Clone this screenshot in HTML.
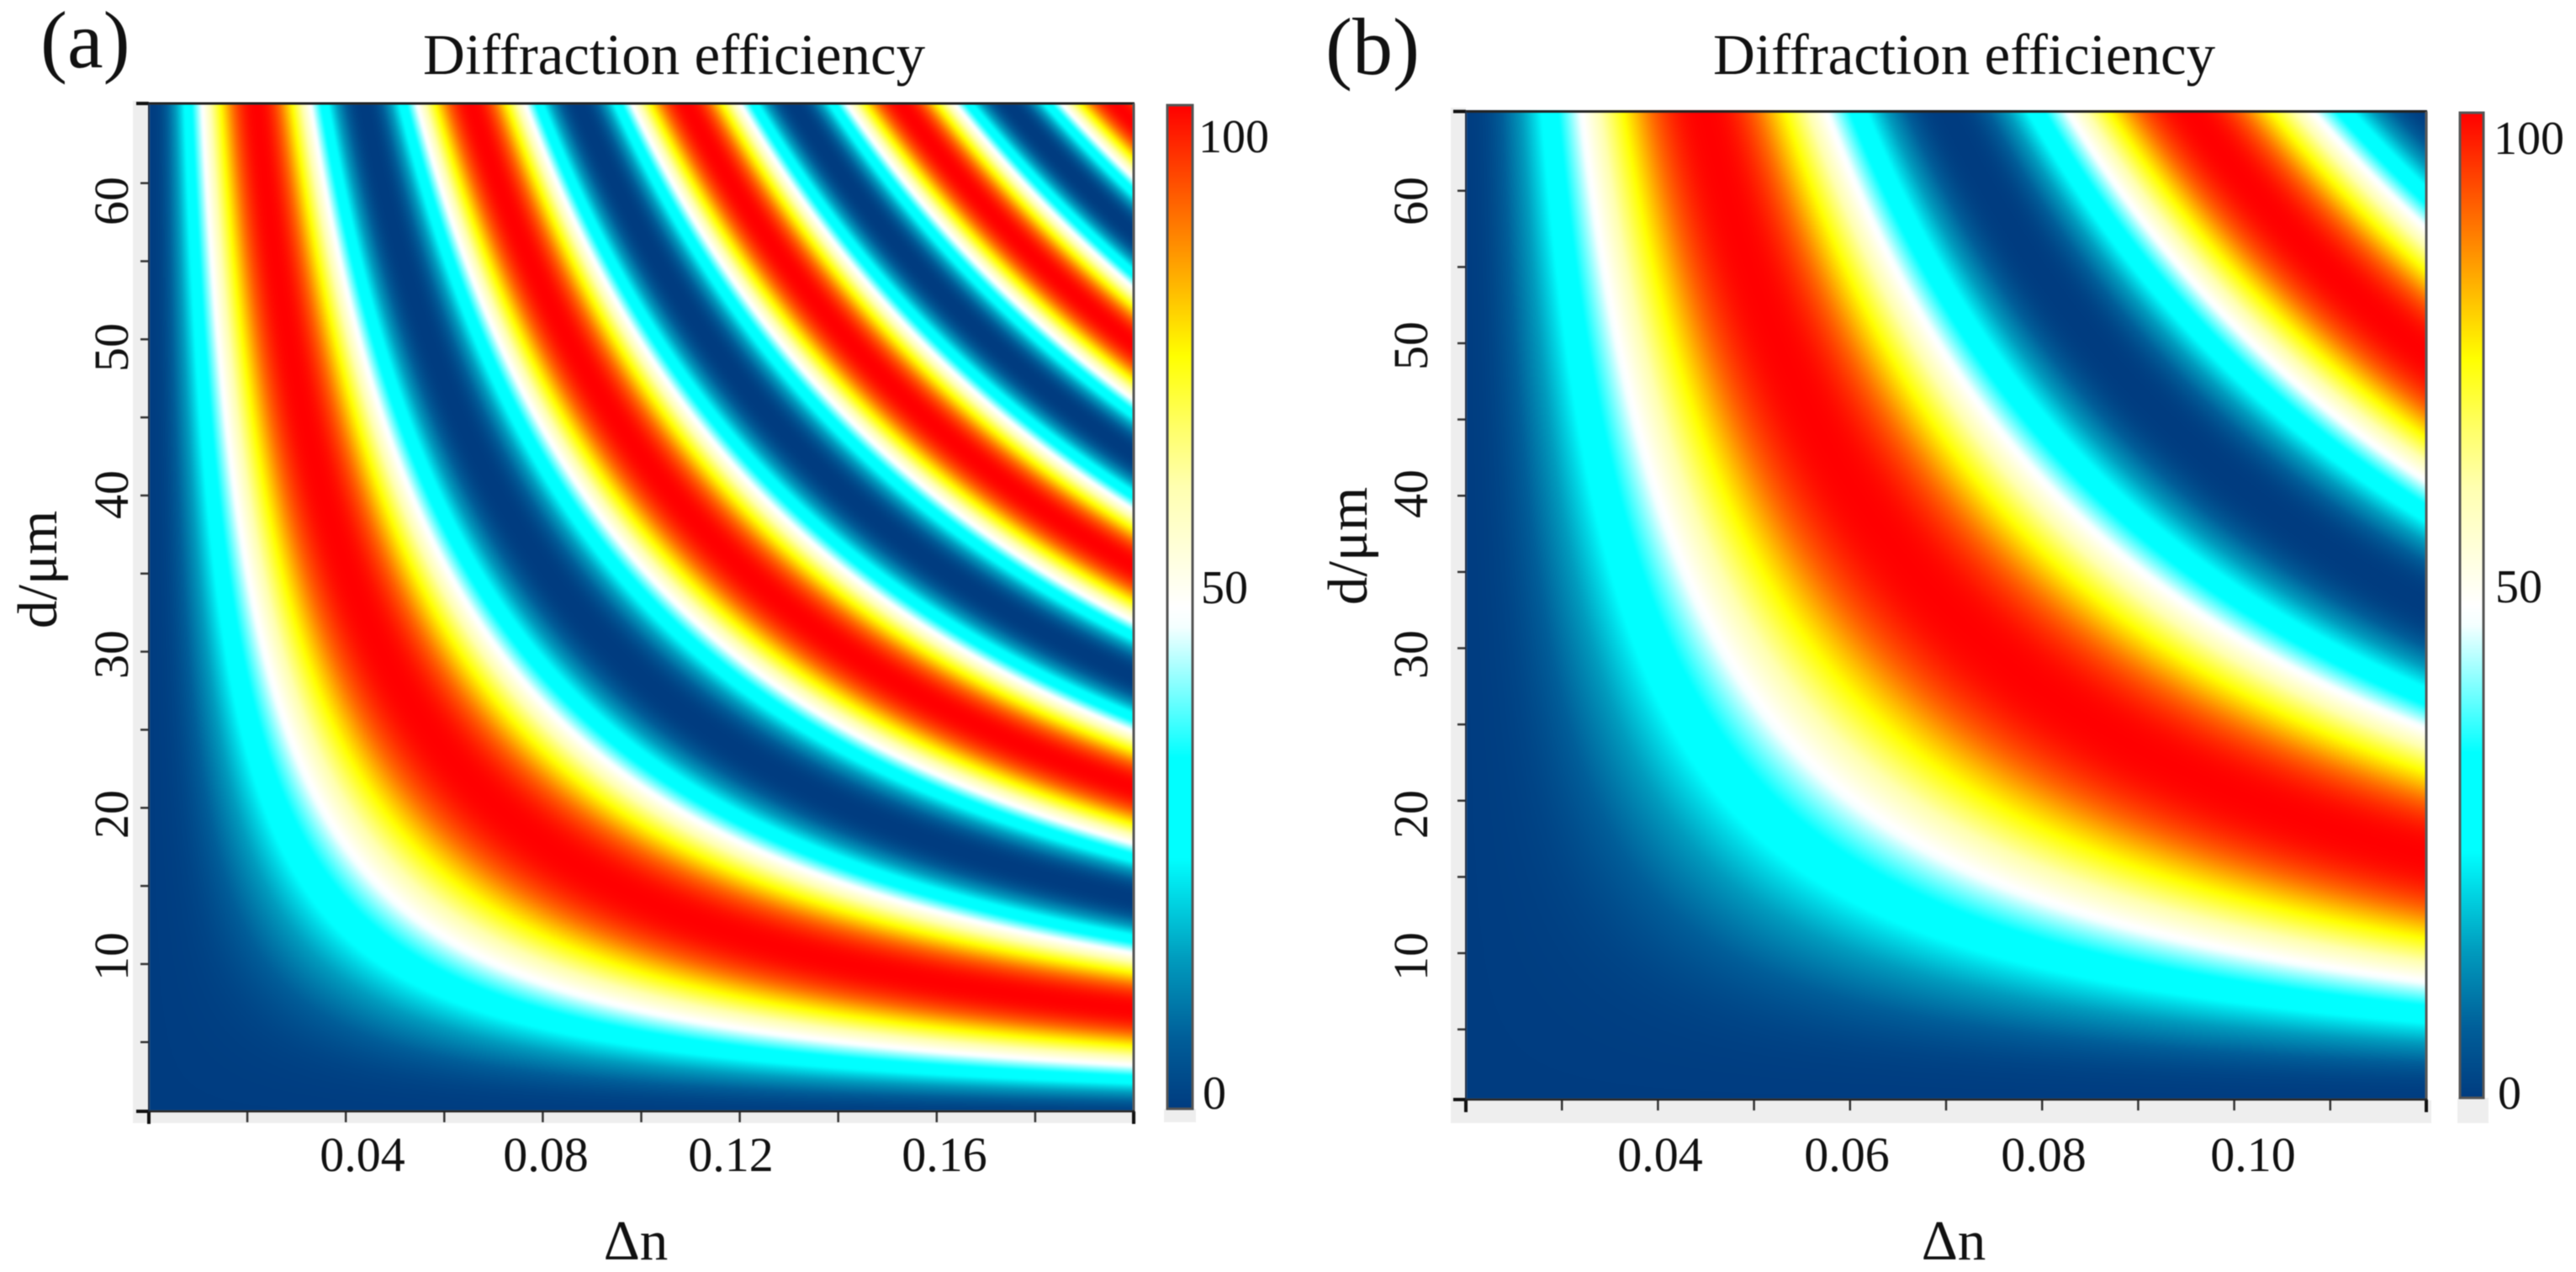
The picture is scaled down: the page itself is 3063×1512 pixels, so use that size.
<!DOCTYPE html>
<html lang="en">
<head>
<meta charset="utf-8">
<title>Diffraction efficiency maps</title>
<style>
html,body{margin:0;padding:0;background:#fff;}
#stage{position:relative;width:3063px;height:1512px;overflow:hidden;background:#fff;}
canvas{position:absolute;filter:blur(1px);}
svg{position:absolute;left:0;top:0;filter:blur(0.6px);}
text{font-family:"Liberation Serif","DejaVu Serif",serif;fill:#111;}
.tick-label{font-size:58px;}
.cb-label{font-size:56px;}
.axis-title{font-size:67px;}
.chart-title{font-size:69px;}
.panel-letter{font-size:96px;}
</style>
</head>
<body>
<div id="stage">
<canvas id="heatA" style="left:177px;top:123px" width="1171" height="1198"></canvas>
<canvas id="heatB" style="left:1743px;top:132px" width="1142" height="1175"></canvas>
<svg id="overlay" width="3063" height="1512" viewBox="0 0 3063 1512" xmlns="http://www.w3.org/2000/svg">
  <defs><linearGradient id="cbGrad" x1="0" y1="1" x2="0" y2="0"></linearGradient></defs>
  <g id="strips">
    <rect x="158" y="120" width="18" height="1215" fill="#eeeeee"/>
    <rect x="158" y="1322" width="1193" height="13" fill="#eeeeee"/>
    <rect x="1725" y="128" width="18" height="1207" fill="#eeeeee"/>
    <rect x="1725" y="1308" width="1166" height="27" fill="#eeeeee"/>
    <rect x="1384" y="1318" width="38" height="16" fill="#eeeeee"/>
    <rect x="2922" y="1305" width="37" height="30" fill="#eeeeee"/>
  </g>
  <g id="ticksA"></g>
  <g id="ticksB"></g>

  <rect x="1388" y="125" width="30" height="1193" fill="url(#cbGrad)" stroke="#555" stroke-width="3"/>
  <rect x="2925" y="134" width="28" height="1171" fill="url(#cbGrad)" stroke="#555" stroke-width="3"/>

  <text class="panel-letter" x="48" y="80">(a)</text>
  <text class="panel-letter" x="1576" y="88">(b)</text>
  <text class="chart-title" x="503" y="88">Diffraction efficiency</text>
  <text class="chart-title" x="2037" y="88">Diffraction efficiency</text>

  <g text-anchor="middle">
    <text class="tick-label" x="431" y="1392">0.04</text>
    <text class="tick-label" x="649" y="1392">0.08</text>
    <text class="tick-label" x="869" y="1392">0.12</text>
    <text class="tick-label" x="1123" y="1392">0.16</text>
  </g>
  <g text-anchor="middle">
    <text class="tick-label" x="1974" y="1392">0.04</text>
    <text class="tick-label" x="2196" y="1392">0.06</text>
    <text class="tick-label" x="2430" y="1392">0.08</text>
    <text class="tick-label" x="2679" y="1392">0.10</text>
  </g>
  <g text-anchor="middle">
    <text class="tick-label" transform="translate(152,239) rotate(-90)">60</text>
    <text class="tick-label" transform="translate(152,413) rotate(-90)">50</text>
    <text class="tick-label" transform="translate(152,588) rotate(-90)">40</text>
    <text class="tick-label" transform="translate(152,778) rotate(-90)">30</text>
    <text class="tick-label" transform="translate(152,968) rotate(-90)">20</text>
    <text class="tick-label" transform="translate(152,1137) rotate(-90)">10</text>
  </g>
  <g text-anchor="middle">
    <text class="tick-label" transform="translate(1697,239) rotate(-90)">60</text>
    <text class="tick-label" transform="translate(1697,411) rotate(-90)">50</text>
    <text class="tick-label" transform="translate(1697,587) rotate(-90)">40</text>
    <text class="tick-label" transform="translate(1697,778) rotate(-90)">30</text>
    <text class="tick-label" transform="translate(1697,968) rotate(-90)">20</text>
    <text class="tick-label" transform="translate(1697,1137) rotate(-90)">10</text>
  </g>

  <text class="axis-title" x="756" y="1497" text-anchor="middle">Δn</text>
  <text class="axis-title" x="2323" y="1497" text-anchor="middle">Δn</text>
  <text class="axis-title" text-anchor="middle" transform="translate(67,677) rotate(-90)">d/μm</text>
  <text class="axis-title" text-anchor="middle" transform="translate(1625,649) rotate(-90)">d/μm</text>

  <text class="cb-label" x="1425" y="181">100</text>
  <text class="cb-label" x="1428" y="717">50</text>
  <text class="cb-label" x="1430" y="1318">0</text>
  <text class="cb-label" x="2965" y="183">100</text>
  <text class="cb-label" x="2967" y="716">50</text>
  <text class="cb-label" x="2970" y="1318">0</text>
</svg>
</div>
<script>
// Axis tick values
const xTicksA = [0, 0.02, 0.04, 0.06, 0.08, 0.10, 0.12, 0.14, 0.16, 0.18, 0.20];
const xTicksB = [0.02, 0.03, 0.04, 0.05, 0.06, 0.07, 0.08, 0.09, 0.10, 0.11, 0.12];
const yTicks = [5, 10, 15, 20, 25, 30, 35, 40, 45, 50, 55, 60];

// Axis ranges
const xRangeA = [0, 0.2];
const yRangeA = [0.57, 65.1];
const xRangeB = [0.02, 0.12];
const yRangeB = [0.4, 65.2];

// Colour scale: efficiency level and its colour on the colour bar
const scaleLevels = [0, 7, 15, 25, 35, 48, 50, 62, 68, 75, 100];
const scaleColors = ['#003c80', '#005e99', '#009cbe', '#00ffff', '#00ffff', '#f4ffff', '#ffffff', '#ffffb0', '#ffff66', '#ffff00', '#ff0000'];

// Efficiency (%) read across the bands of each panel, ordered from the origin outwards.
// The bands follow contours of constant (dn - dnOrigin) * d; consecutive readings are
// one sampleStep apart along that coordinate.
const dnOriginA = 0;
const sampleStepA = 0.142;
const efficiencyA = [
  0, 2, 10, 21, 35, 50, 66, 79, 91, 98, 100, 98, 91, 79, 66, 50, 35, 21, 10, 2,
  0, 2, 10, 21, 35, 50, 66, 79, 91, 98, 100, 98, 91, 79, 66, 50, 35, 21, 10, 2,
  0, 2, 10, 21, 35, 50, 66, 79, 91, 98, 100, 98, 91, 79, 66, 50, 35, 21, 10, 2,
  0, 2, 10, 21, 35, 50, 66, 79, 91, 98, 100, 98, 91, 79, 66, 50, 35, 21, 10, 2,
  0, 2, 10, 21, 35, 50, 66, 79, 91, 98, 100, 98, 91
];
const dnOriginB = 0.0195;
const sampleStepB = 0.165;
const efficiencyB = [
  0, 2, 10, 21, 35, 50, 66, 79, 91, 98, 100, 98, 91, 79, 66, 50, 35, 21, 10, 2,
  0, 2, 10, 21, 35, 50, 66, 79, 91, 98, 100, 98, 91, 79, 66, 50, 35, 21, 10, 2,
  0, 2, 10
];

function hexToRgb(h) {
  return [parseInt(h.slice(1, 3), 16), parseInt(h.slice(3, 5), 16), parseInt(h.slice(5, 7), 16)];
}

function colorFor(v) {
  const c = Math.max(scaleLevels[0], Math.min(scaleLevels[scaleLevels.length - 1], v));
  let i = 0;
  while (i < scaleLevels.length - 2 && c > scaleLevels[i + 1]) i++;
  const t = (c - scaleLevels[i]) / (scaleLevels[i + 1] - scaleLevels[i]);
  const a = hexToRgb(scaleColors[i]);
  const b = hexToRgb(scaleColors[i + 1]);
  return [a[0] + (b[0] - a[0]) * t, a[1] + (b[1] - a[1]) * t, a[2] + (b[2] - a[2]) * t];
}

function readProfile(table, step, u) {
  const pos = u / step;
  const i = Math.floor(pos);
  const t = pos - i;
  const at = k => table[Math.max(0, Math.min(table.length - 1, k))];
  const p0 = at(i - 1), p1 = at(i), p2 = at(i + 1), p3 = at(i + 2);
  const v = 0.5 * (2 * p1 + (p2 - p0) * t + (2 * p0 - 5 * p1 + 4 * p2 - p3) * t * t + (3 * p1 - p0 - 3 * p2 + p3) * t * t * t);
  return Math.max(0, Math.min(100, v));
}

function makeAxis(range, pxStart, pxEnd) {
  const k = (pxEnd - pxStart) / (range[1] - range[0]);
  return {
    toPx: v => pxStart + (v - range[0]) * k,
    toValue: p => range[0] + (p - pxStart) / k
  };
}

function drawHeatmap(canvasId, xAxis, yAxis, left, top, table, step, origin) {
  const cv = document.getElementById(canvasId);
  const ctx = cv.getContext('2d');
  const img = ctx.createImageData(cv.width, cv.height);
  const lut = [];
  for (let i = 0; i <= 2000; i++) lut.push(colorFor(i / 20));
  let n = 0;
  for (let py = 0; py < cv.height; py++) {
    const d = yAxis.toValue(top + py + 0.5);
    for (let px = 0; px < cv.width; px++) {
      const dn = xAxis.toValue(left + px + 0.5);
      const v = readProfile(table, step, Math.max(0, (dn - origin) * d));
      const c = lut[Math.round(v * 20)];
      img.data[n++] = c[0];
      img.data[n++] = c[1];
      img.data[n++] = c[2];
      img.data[n++] = 255;
    }
  }
  ctx.putImageData(img, 0, 0);
}

function line(parent, x1, y1, x2, y2, w, col) {
  const el = document.createElementNS('http://www.w3.org/2000/svg', 'line');
  el.setAttribute('x1', x1);
  el.setAttribute('y1', y1);
  el.setAttribute('x2', x2);
  el.setAttribute('y2', y2);
  el.setAttribute('stroke', col);
  el.setAttribute('stroke-width', w);
  parent.appendChild(el);
  return el;
}

function drawAxes(groupId, xAxis, yAxis, xTicks, rect) {
  const g = document.getElementById(groupId);
  xTicks.forEach((v, i) => {
    const x = xAxis.toPx(v);
    const edge = i === 0 || i === xTicks.length - 1;
    const el = line(g, x, rect.bottom, x, rect.bottom + (edge ? 15 : 13), edge ? 4 : 2.5, edge ? '#111' : '#333');
    
    
  });
  yTicks.forEach(v => {
    const y = yAxis.toPx(v);
    const el = line(g, rect.left - 10, y, rect.left, y, 2.5, '#333');
    
    
  });
  const cornerTop = line(g, rect.left - 15, rect.top, rect.left, rect.top, 4, '#111');
  
  
  const cornerBottom = line(g, rect.left - 15, rect.bottom, rect.left, rect.bottom, 4, '#111');
  
  
  const frameTop = line(g, rect.left - 1, rect.top, rect.right + 1, rect.top, 3, '#222');
  
  
  const frameRight = line(g, rect.right, rect.top, rect.right, rect.bottom, 3, '#555');
  
  
  const frameBottom = line(g, rect.left - 1, rect.bottom, rect.right + 1, rect.bottom, 2.5, '#222');
  
  
  const frameLeft = line(g, rect.left, rect.top, rect.left, rect.bottom, 2, '#1c2c44');
  
  
}

const grad = document.getElementById('cbGrad');
scaleLevels.forEach((lv, i) => {
  const s = document.createElementNS('http://www.w3.org/2000/svg', 'stop');
  s.setAttribute('offset', lv + '%');
  s.setAttribute('stop-color', scaleColors[i]);
  grad.appendChild(s);
});

const rectA = {left: 177, right: 1348, top: 123, bottom: 1321};
const rectB = {left: 1743, right: 2885, top: 132.5, bottom: 1307};
const xAxisA = makeAxis(xRangeA, rectA.left, rectA.right);
const yAxisA = makeAxis(yRangeA, rectA.bottom, rectA.top);
const xAxisB = makeAxis(xRangeB, rectB.left, rectB.right);
const yAxisB = makeAxis(yRangeB, rectB.bottom, rectB.top);

drawHeatmap('heatA', xAxisA, yAxisA, 177, 123, efficiencyA, sampleStepA, dnOriginA);
drawHeatmap('heatB', xAxisB, yAxisB, 1743, 132, efficiencyB, sampleStepB, dnOriginB);
drawAxes('ticksA', xAxisA, yAxisA, xTicksA, rectA);
drawAxes('ticksB', xAxisB, yAxisB, xTicksB, rectB);
</script>
</body>
</html>
